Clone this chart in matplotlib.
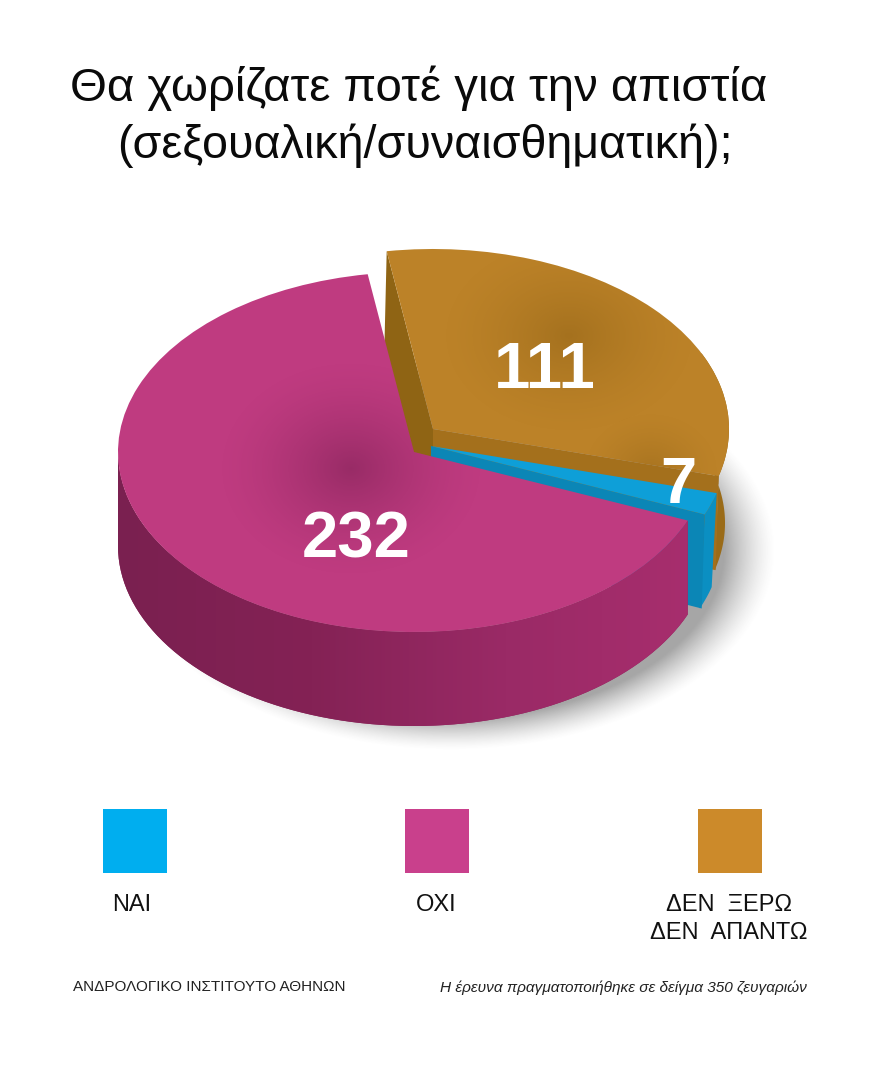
import numpy as np
import matplotlib
matplotlib.use("Agg")
import matplotlib.pyplot as plt
from matplotlib.colors import LinearSegmentedColormap
from matplotlib.patches import Wedge, Polygon, Rectangle
from matplotlib.transforms import Affine2D

# data
title_lines = ["Θα χωρίζατε ποτέ για την απιστία", "(σεξουαλική/συναισθηματική);"]
values_pink = 232
values_blue = 7
values_brown = 111
legend_names = ["ΝΑΙ", "ΟΧΙ", "ΔΕΝ  ΞΕΡΩ\nΔΕΝ  ΑΠΑΝΤΩ"]
source_left = "ΑΝΔΡΟΛΟΓΙΚΟ ΙΝΣΤΙΤΟΥΤΟ ΑΘΗΝΩΝ"
source_right = "Η έρευνα πραγματοποιήθηκε σε δείγμα 350 ζευγαριών"

plt.rcParams['font.family'] = ['Liberation Sans', 'DejaVu Sans']

# figure in pixel coordinates, y going down
fig = plt.figure(figsize=(8.8, 10.83), dpi=100)
ax = fig.add_axes([0, 0, 1, 1])
ax.set_axis_off()

RX, RY, DEPTH = 296, 180, 94

# angles come from the values, going round from the top
total = values_pink + values_blue + values_brown
start = 99
pink_a = (start, start + 360 * values_pink / total)
blue_a = (pink_a[1], pink_a[1] + 360 * values_blue / total)
brown_a = (blue_a[1], blue_a[1] + 360 * values_brown / total)

pink_c = (414, 452)
blue_c = (431, 446)
brown_c = (433, 429)


def rim(center, deg):
    t = np.radians(deg)
    return np.column_stack([center[0] + RX * np.cos(t), center[1] - RY * np.sin(t)])


def top(center, angles, color, z):
    tr = Affine2D().scale(RX, -RY).translate(*center) + ax.transData
    w = Wedge((0, 0), 1, angles[0], angles[1], facecolor=color, edgecolor='none', transform=tr, zorder=z)
    ax.add_patch(w)
    return w


def outer_wall(center, a0, a1, color, z, shift=0):
    # shift pulls the lower rim in a little, the picture has some perspective
    pts = rim(center, np.linspace(a0, a1, 80))
    low = pts[::-1] + [shift, DEPTH]
    p = Polygon(np.vstack([pts, low]), closed=True, facecolor=color, edgecolor='none', zorder=z)
    ax.add_patch(p)
    return p


def side_wall(center, deg, color, z, depth=DEPTH):
    e = rim(center, np.array([deg]))[0]
    pts = [center, e, e + [-3, depth], (center[0], center[1] + depth)]
    p = Polygon(pts, closed=True, facecolor=color, edgecolor='none', zorder=z)
    ax.add_patch(p)
    return p


def dark_spot(patch, x0, y0, rx, ry, alpha, color, z):
    # soft dark patch laid over a face, clipped to it
    xx, yy = np.meshgrid(np.arange(0, 880, 2), np.arange(0, 1083, 2))
    d = np.sqrt(((xx - x0) / rx) ** 2 + ((yy - y0) / ry) ** 2)
    img = np.zeros(xx.shape + (4,))
    img[..., :3] = matplotlib.colors.to_rgb(color)
    img[..., 3] = alpha * np.clip(1 - d, 0, 1) ** 1.5
    im = ax.imshow(img, extent=(0, 880, 1083, 0), zorder=z, interpolation='bilinear', aspect='auto')
    im.set_clip_path(patch)


def h_gradient(patch, x0, x1, colors, z):
    cmap = LinearSegmentedColormap.from_list('w', colors)
    grad = np.linspace(0, 1, 256).reshape(1, -1)
    im = ax.imshow(grad, extent=(x0, x1, 1083, 0), cmap=cmap, zorder=z, aspect='auto')
    im.set_clip_path(patch)


# drop shadow
xx, yy = np.meshgrid(np.arange(0, 880, 2), np.arange(0, 1083, 2))
d = np.sqrt(((xx - 450) / 325) ** 2 + ((yy - 550) / 200) ** 2)
sh = np.zeros(xx.shape + (4,))
sh[..., :3] = 0.3
sh[..., 3] = 0.5 * np.clip((1.0 - d) / 0.16, 0, 1) ** 1.4
ax.imshow(sh, extent=(0, 880, 1083, 0), zorder=1, interpolation='bilinear', aspect='auto')

# brown slice
outer_wall(brown_c, brown_a[0] - 360, 25, '#9a6b18', 2, shift=-4)
side_wall(brown_c, brown_a[1], '#8f6414', 2.1, depth=125)
side_wall(brown_c, brown_a[0], '#a4701c', 2.2)
b_top = top(brown_c, brown_a, '#bc8228', 3)
dark_spot(b_top, 568, 335, 130, 100, 0.30, '#6e4a08', 3.1)
dark_spot(b_top, 650, 470, 70, 60, 0.25, '#6e4a08', 3.2)

# blue slice
outer_wall(blue_c, blue_a[0], blue_a[1], '#0b8fc2', 4, shift=-5)
side_wall(blue_c, blue_a[0], '#0b86b6', 4.1)
top(blue_c, blue_a, '#0e9fd8', 4.2)

# pink slice
p_wall = outer_wall(pink_c, 180, pink_a[1], '#8a2358', 5)
h_gradient(p_wall, 118, 700, ['#7a2050', '#842255', '#9a2a66', '#a82e6e'], 5.1)
p_top = top(pink_c, pink_a, '#bf3b80', 6)
dark_spot(p_top, 350, 468, 135, 110, 0.40, '#5e1440', 6.1)

# numbers on the slices
num = dict(fontweight='bold', color='white', ha='center', va='center', zorder=8)
ax.text(356, 540, str(values_pink), fontsize=47, **num)
ax.text(545, 371, str(values_brown), fontsize=47, **num)
ax.text(678, 486, str(values_blue), fontsize=47, **num)

# title
ax.text(419, 88, title_lines[0], fontsize=34.1, ha='center', va='center', color='#0a0a0a')
ax.text(425, 146, title_lines[1], fontsize=33.6, ha='center', va='center', color='#0a0a0a')

# legend
swatch_x = [103, 405, 698]
swatch_col = ['#00aeef', '#c9408c', '#cc8a2a']
label_x = [132, 436, 729]
for sx, col, lx, name in zip(swatch_x, swatch_col, label_x, legend_names):
    ax.add_patch(Rectangle((sx, 809), 64, 64, facecolor=col, edgecolor='none', zorder=2))
    ax.text(lx, 894, name, fontsize=17, ha='center', va='top', linespacing=1.35, color='#111111')

# footer
ax.text(73, 987, source_left, fontsize=11, ha='left', va='center', color='#222222')
ax.text(807, 988, source_right, fontsize=11.1, style='italic', ha='right', va='center', color='#222222')

ax.set_xlim(0, 880)
ax.set_ylim(1083, 0)
fig.savefig('out.png', dpi=100, facecolor='white')
